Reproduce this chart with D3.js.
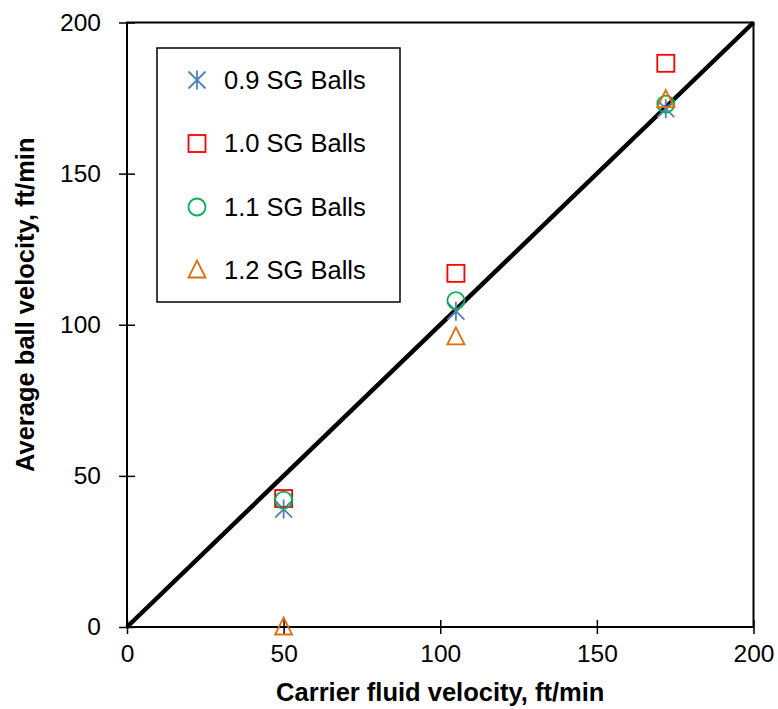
<!DOCTYPE html>
<html>
<head>
<meta charset="utf-8">
<script src="https://cdn.jsdelivr.net/npm/d3@7"></script>
<style>
body { margin: 0; background: #fff; }
text { font-family: "Liberation Sans", Arial, sans-serif; fill: #000; }
</style>
</head>
<body>
<svg id="chart" width="778" height="709"></svg>
<script>
// carrier fluid velocity, ft/min
var carrier = [50, 105, 172]
var series_names = ["0.9 SG Balls", "1.0 SG Balls", "1.1 SG Balls", "1.2 SG Balls"]
var sg09 = [39, 104.5, 171.5]
var sg10 = [42.5, 117, 186.5]
var sg11 = [42, 108, 173]
var sg12 = [0, 96, 174.5]
var ticks = [0, 50, 100, 150, 200]

var colors = ["#4F81BD", "#FF0000", "#00B050", "#E46C0A"]
var shapes = ["star", "square", "circle", "triangle"]
var all_series = [sg09, sg10, sg11, sg12]

var svg = d3.select("#chart")
var plot_left = 127, plot_right = 753.5, plot_top = 22.5, plot_bottom = 627

var x = d3.scaleLinear().domain([0, 200]).range([plot_left, plot_right])
var y = d3.scaleLinear().domain([0, 200]).range([plot_bottom, plot_top])

// frame
svg.append("rect")
    .attr("x", plot_left).attr("y", plot_top)
    .attr("width", plot_right - plot_left).attr("height", plot_bottom - plot_top)
    .attr("fill", "none").attr("stroke", "#000").attr("stroke-width", 2)

var xaxis = svg.append("g").attr("transform", "translate(0," + plot_bottom + ")")
    .call(d3.axisBottom(x).tickValues(ticks).tickSize(7).tickFormat(d3.format("d")))
xaxis.select(".domain").remove()
xaxis.selectAll(".tick line").attr("y1", -7).attr("stroke-width", 1.5)
xaxis.selectAll(".tick text").attr("y", 18).attr("font-size", 24.5)
    .attr("font-family", "Liberation Sans, Arial, sans-serif")

var yaxis = svg.append("g").attr("transform", "translate(" + plot_left + ",0)")
    .call(d3.axisLeft(y).tickValues(ticks).tickSize(8).tickFormat(d3.format("d")))
yaxis.select(".domain").remove()
yaxis.selectAll(".tick line").attr("x1", 8).attr("x2", -8).attr("stroke-width", 1.5)
yaxis.selectAll(".tick text").attr("x", -26).attr("font-size", 24.5)
    .attr("font-family", "Liberation Sans, Arial, sans-serif")

// 1:1 line
svg.append("line")
    .attr("x1", x(0)).attr("y1", y(0))
    .attr("x2", x(200)).attr("y2", y(200))
    .attr("stroke", "#000").attr("stroke-width", 4.5)

var draw_marker = function(g, shape, color) {
    var s = 8.5
    if (shape == "star") {
        g.append("path")
            .attr("d", "M" + (-s) + "," + (-s) + "L" + s + "," + s +
                "M" + (-s) + "," + s + "L" + s + "," + (-s) +
                "M0," + (-s - 1) + "L0," + (s + 1))
            .attr("stroke", color).attr("stroke-width", 1.8).attr("fill", "none")
    } else if (shape == "square") {
        g.append("rect").attr("x", -s).attr("y", -s).attr("width", 2 * s).attr("height", 2 * s)
            .attr("stroke", color).attr("stroke-width", 1.8).attr("fill", "none")
    } else if (shape == "circle") {
        g.append("circle").attr("r", s)
            .attr("stroke", color).attr("stroke-width", 1.8).attr("fill", "none")
    } else {
        g.append("path")
            .attr("d", "M0," + (-s - 1) + "L" + s + "," + (s - 1) + "L" + (-s) + "," + (s - 1) + "Z")
            .attr("stroke", color).attr("stroke-width", 1.8).attr("fill", "none")
    }
}

all_series.forEach(function(vals, si) {
    svg.append("g").selectAll("g")
        .data(vals)
        .enter()
        .append("g")
            .attr("transform", function(d, i) { return "translate(" + x(carrier[i]) + "," + y(d) + ")"; })
            .each(function() { draw_marker(d3.select(this), shapes[si], colors[si]); })
})

// legend
svg.append("rect")
    .attr("x", 157).attr("y", 48).attr("width", 243).attr("height", 254)
    .attr("fill", "#fff").attr("stroke", "#000").attr("stroke-width", 1.5)
var legend_y = [80, 143.5, 207, 270]
series_names.forEach(function(name, i) {
    var g = svg.append("g").attr("transform", "translate(197," + legend_y[i] + ")")
    draw_marker(g, shapes[i], colors[i])
    g.append("text").attr("x", 27).attr("dy", "0.35em").attr("font-size", 25.5).text(name)
})

// axis titles
svg.append("text")
    .attr("x", (plot_left + plot_right) / 2).attr("y", 701)
    .attr("text-anchor", "middle").attr("font-size", 25.5).attr("font-weight", "bold")
    .text("Carrier fluid velocity, ft/min")
svg.append("text")
    .attr("transform", "translate(34," + ((plot_top + plot_bottom) / 2 - 20) + ") rotate(-90)")
    .attr("text-anchor", "middle").attr("font-size", 25.5).attr("font-weight", "bold")
    .text("Average ball velocity, ft/min")
</script>
</body>
</html>
